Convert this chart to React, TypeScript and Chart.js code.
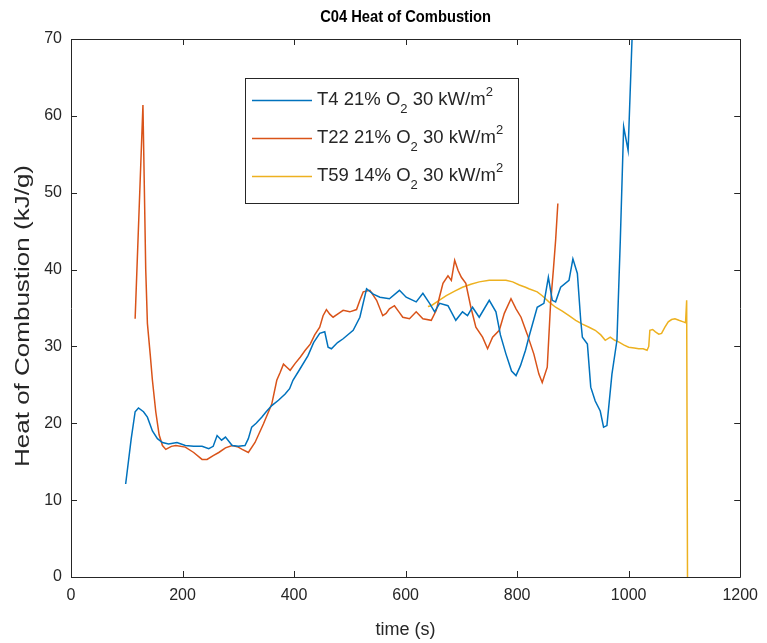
import React, { useEffect, useRef } from "react";
import { Chart, registerables } from "chart.js";

Chart.register(...registerables);

// T4: 21% O2, 30 kW/m2
const t4Time = [98, 108, 115, 121, 130, 137, 146, 155, 164, 175, 190, 205, 220, 235, 247, 255, 262, 270, 277, 289, 300, 312, 318, 324, 332, 342, 350, 360, 372, 384, 392, 398, 410, 425, 435, 446, 455, 461, 467, 478, 488, 506, 518, 530, 542, 554, 571, 589, 601, 619, 631, 643, 652, 661, 676, 690, 702, 711, 720, 732, 750, 762, 770, 780, 790, 798, 806, 815, 821, 836, 848, 856, 863, 869, 878, 893, 900, 908, 914, 917, 926, 932, 940, 949, 955, 961, 970, 979, 985, 991, 999, 1006, 1008];
const t4Hoc = [12.1, 18, 21.5, 22, 21.5, 20.8, 19.0, 18, 17.5, 17.3, 17.5, 17.1, 17, 17, 16.7, 17, 18.4, 17.8, 18.2, 17.1, 17, 17.1, 18, 19.5, 20, 20.8, 21.5, 22.3, 23, 23.8, 24.5, 25.6, 27, 28.8, 30.5, 31.7, 31.9, 29.9, 29.7, 30.5, 31.0, 32.1, 33.8, 37.5, 36.8, 36.4, 36.2, 37.3, 36.4, 35.8, 36.9, 35.6, 34.5, 35.6, 35.3, 33.4, 34.5, 34.0, 35.1, 33.8, 36.0, 34.5, 31.5, 29.0, 26.8, 26.2, 27.5, 29.5, 31.2, 35.1, 35.6, 39.0, 36.0, 35.8, 37.7, 38.6, 41.4, 39.5, 33.4, 31.2, 30.3, 24.7, 22.9, 21.6, 19.5, 19.7, 26.4, 30.8, 43.8, 58.6, 55.5, 69.9, 73];

// T22: 21% O2, 30 kW/m2
const t22Time = [115, 129, 134, 137, 142, 146, 152, 158, 164, 170, 180, 188, 205, 220, 235, 244, 255, 265, 277, 289, 300, 307, 318, 330, 345, 360, 369, 375, 381, 387, 393, 402, 411, 420, 429, 437, 446, 452, 458, 464, 470, 480, 488, 500, 512, 518, 524, 536, 548, 559, 565, 571, 580, 588, 595, 607, 619, 631, 646, 655, 661, 667, 676, 682, 688, 694, 700, 708, 717, 726, 738, 747, 756, 768, 777, 789, 798, 807, 818, 830, 839, 845, 854, 860, 865, 869, 873];
const t22Hoc = [33.6, 61.4, 40, 33, 29, 25.6, 21.5, 18.5, 17.1, 16.6, 17, 17.1, 16.9, 16.2, 15.3, 15.3, 15.8, 16.2, 16.8, 17.1, 16.9, 16.6, 16.2, 17.5, 19.9, 22.5, 25.6, 26.6, 27.7, 27.3, 26.9, 27.8, 28.6, 29.5, 30.3, 31.5, 32.5, 34, 34.8, 34.2, 33.8, 34.3, 34.7, 34.5, 34.8, 36, 37.1, 37.3, 36.0, 34.0, 34.3, 34.9, 35.3, 34.5, 33.8, 33.6, 34.5, 33.6, 33.4, 34.7, 36.5, 38.2, 39.2, 38.6, 41.2, 39.9, 39.0, 38.2, 35.1, 32.5, 31.2, 29.7, 31.2, 32.1, 34.3, 36.2, 34.9, 33.8, 31.6, 29.0, 26.4, 25.3, 27.3, 35.6, 40, 43.8, 48.6];

// T59: 14% O2, 30 kW/m2
const t59Time = [640, 646, 660, 673, 688, 702, 717, 732, 750, 768, 780, 792, 804, 815, 821, 836, 845, 857, 869, 881, 893, 905, 917, 929, 940, 950, 958, 967, 975, 982, 991, 1000, 1010, 1018, 1026, 1033, 1036, 1038, 1043, 1048, 1054, 1059, 1065, 1071, 1077, 1083, 1090, 1098, 1102, 1104, 1105.5];
const t59Hoc = [35.2, 35.3, 36, 36.6, 37.2, 37.7, 38.1, 38.4, 38.6, 38.6, 38.6, 38.4, 38, 37.7, 37.5, 37.1, 36.6, 35.8, 35.1, 34.6, 34.0, 33.4, 32.9, 32.5, 32.1, 31.5, 30.8, 31.2, 30.8, 30.6, 30.2, 29.9, 29.8, 29.7, 29.7, 29.5, 30, 32.1, 32.2, 31.9, 31.6, 31.7, 32.5, 33.2, 33.5, 33.6, 33.4, 33.2, 33.1, 36.0, 0];

const seriesColors = ["#0072BD", "#D95319", "#EDB120"];
const runLabels = ["T4", "T22", "T59"];
const oxygenLabels = ["21%", "21%", "14%"];
const fluxLabels = ["30", "30", "30"];

const chartTitle = "C04 Heat of Combustion";
const xTitle = "time (s)";
const yTitle = "Heat of Combustion (kJ/g)";
const xRange = [0, 1200];
const yRange = [0, 70];
const xStep = 200;
const yStep = 10;

const FONT = '"Liberation Sans", Arial, Helvetica, sans-serif';
const AXIS_COLOR = "#262626";

const toPoints = (xs: number[], ys: number[]) => xs.map((x, i) => ({ x, y: ys[i] }));

// Draws the boxed axes with inward ticks, the titles and the legend
const framePlugin = {
  id: "framePlugin",
  afterDraw(chart: any) {
    const { ctx, chartArea, scales } = chart;
    const { left, right, top, bottom } = chartArea;
    const xs = scales.x;
    const ys = scales.y;
    ctx.save();
    ctx.strokeStyle = AXIS_COLOR;
    ctx.lineWidth = 1;
    ctx.beginPath();
    ctx.rect(Math.round(left) + 0.5, Math.round(top) + 0.5, Math.round(right - left), Math.round(bottom - top));
    ctx.stroke();

    const tl = 6;
    ctx.beginPath();
    xs.ticks.forEach((t: any) => {
      const px = Math.round(xs.getPixelForValue(t.value)) + 0.5;
      ctx.moveTo(px, bottom);
      ctx.lineTo(px, bottom - tl);
      ctx.moveTo(px, top);
      ctx.lineTo(px, top + tl);
    });
    ys.ticks.forEach((t: any) => {
      const py = Math.round(ys.getPixelForValue(t.value)) + 0.5;
      ctx.moveTo(left, py);
      ctx.lineTo(left + tl, py);
      ctx.moveTo(right, py);
      ctx.lineTo(right - tl, py);
    });
    ctx.stroke();

    // chart title
    ctx.fillStyle = "#000";
    ctx.font = `bold 16px ${FONT}`;
    ctx.textAlign = "center";
    ctx.textBaseline = "middle";
    ctx.save();
    ctx.translate((left + right) / 2, 18);
    ctx.scale(0.92, 1);
    ctx.fillText(chartTitle, 0, 0);
    ctx.restore();

    // y-axis title
    ctx.fillStyle = AXIS_COLOR;
    ctx.font = `20px ${FONT}`;
    ctx.save();
    ctx.translate(23, 316);
    ctx.rotate(-Math.PI / 2);
    ctx.scale(1.3, 1);
    ctx.fillText(yTitle, 0, 0);
    ctx.restore();

    // legend
    const bx = 245, by = 78, bw = 273, bh = 125;
    ctx.fillStyle = "#fff";
    ctx.fillRect(bx, by, bw, bh);
    ctx.strokeStyle = AXIS_COLOR;
    ctx.lineWidth = 1;
    ctx.strokeRect(bx + 0.5, by + 0.5, bw, bh);
    const rowY = [100, 138, 176];
    const mainSize = 18.5;
    const smallSize = 13;
    ctx.textAlign = "left";
    ctx.textBaseline = "middle";
    runLabels.forEach((run, i) => {
      const cy = rowY[i];
      ctx.strokeStyle = seriesColors[i];
      ctx.lineWidth = 1.5;
      ctx.beginPath();
      ctx.moveTo(252, cy + 0.5);
      ctx.lineTo(312, cy + 0.5);
      ctx.stroke();
      ctx.fillStyle = AXIS_COLOR;
      let x = 317;
      const part1 = `${run} ${oxygenLabels[i]} O`;
      ctx.font = `${mainSize}px ${FONT}`;
      ctx.fillText(part1, x, cy);
      x += ctx.measureText(part1).width;
      ctx.font = `${smallSize}px ${FONT}`;
      ctx.fillText("2", x, cy + 9);
      x += ctx.measureText("2").width;
      const part2 = ` ${fluxLabels[i]} kW/m`;
      ctx.font = `${mainSize}px ${FONT}`;
      ctx.fillText(part2, x, cy);
      x += ctx.measureText(part2).width;
      ctx.font = `${smallSize}px ${FONT}`;
      ctx.fillText("2", x, cy - 8);
    });
    ctx.restore();
  },
};

export default function App() {
  const canvasRef = useRef<HTMLCanvasElement | null>(null);

  useEffect(() => {
    document.body.style.margin = "0";
    const canvas = canvasRef.current;
    if (!canvas) return;
    const datasets = [
      toPoints(t4Time, t4Hoc),
      toPoints(t22Time, t22Hoc),
      toPoints(t59Time, t59Hoc),
    ].map((data, i) => ({
      label: runLabels[i],
      data,
      borderColor: seriesColors[i],
      backgroundColor: seriesColors[i],
      borderWidth: 1.5,
      pointRadius: 0,
      tension: 0,
      fill: false,
      clip: 0,
    }));

    const chart = new Chart(canvas, {
      type: "line",
      data: { datasets },
      options: {
        animation: false,
        responsive: false,
        devicePixelRatio: 1,
        parsing: false,
        layout: { padding: { top: 39, right: 26, bottom: 0, left: 0 } },
        plugins: {
          legend: { display: false },
          title: { display: false },
          tooltip: { enabled: false },
        },
        scales: {
          x: {
            type: "linear",
            min: xRange[0],
            max: xRange[1],
            grid: { display: false, drawTicks: false },
            border: { display: false },
            ticks: {
              stepSize: xStep,
              padding: 9,
              maxRotation: 0,
              autoSkip: false,
              color: AXIS_COLOR,
              font: { family: FONT, size: 16 },
              callback: (v: any) => String(v),
            },
            title: {
              display: true,
              text: xTitle,
              color: AXIS_COLOR,
              font: { family: FONT, size: 18 },
              padding: { top: 0, bottom: 2 },
            },
            afterFit: (s: any) => {
              s.height = 66;
            },
          },
          y: {
            type: "linear",
            min: yRange[0],
            max: yRange[1],
            grid: { display: false, drawTicks: false },
            border: { display: false },
            ticks: {
              stepSize: yStep,
              padding: 9,
              color: AXIS_COLOR,
              font: { family: FONT, size: 16 },
              callback: (v: any) => String(v),
            },
            title: { display: false },
            afterFit: (s: any) => {
              s.width = 71;
            },
          },
        },
      } as any,
      plugins: [framePlugin],
    });
    return () => chart.destroy();
  }, []);

  return <canvas ref={canvasRef} width={767} height={643} style={{ display: "block" }} />;
}
